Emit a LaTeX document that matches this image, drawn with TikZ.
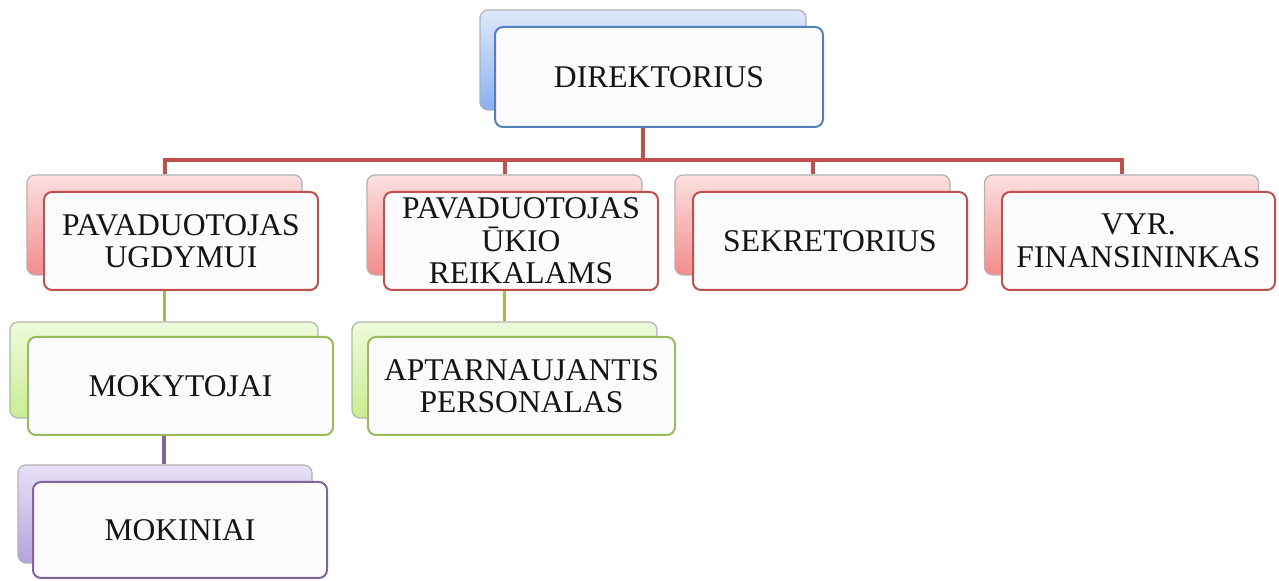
\documentclass[tikz,border=0pt]{standalone}
\usepackage{fontspec}
\setmainfont{Liberation Serif}
\usetikzlibrary{backgrounds}
\definecolor{redline}{RGB}{192,80,77}
\definecolor{greenline}{RGB}{155,187,89}
\definecolor{purpleline}{RGB}{128,100,162}
\definecolor{blueline}{RGB}{79,129,189}
\definecolor{redlight}{RGB}{251,224,224}
\definecolor{reddark}{RGB}{243,140,140}
\definecolor{bluelight}{RGB}{222,232,251}
\definecolor{bluedark}{RGB}{140,176,240}
\definecolor{greenlight}{RGB}{238,251,220}
\definecolor{greendark}{RGB}{202,236,145}
\definecolor{purplelight}{RGB}{232,225,246}
\definecolor{purpledark}{RGB}{182,162,222}
\definecolor{frontfill}{RGB}{252,252,254}
\definecolor{textcol}{RGB}{20,20,20}
\begin{document}
\begin{tikzpicture}[x=0.5pt,y=-0.5pt,
  backbox/.style={rectangle, rounded corners=4pt, draw=gray!60, line width=0.6pt, inner sep=0pt},
  frontbox/.style={rectangle, rounded corners=4pt, fill=frontfill, line width=1pt, inner sep=1pt,
    align=center, text=textcol, font=\fontsize{15.8}{16.3}\selectfont},
  redback/.style={backbox, top color=redlight, bottom color=reddark},
  blueback/.style={backbox, top color=bluelight, bottom color=bluedark},
  greenback/.style={backbox, top color=greenlight, bottom color=greendark},
  purpleback/.style={backbox, top color=purplelight, bottom color=purpledark},
  redfront/.style={frontbox, draw=redline},
  bluefront/.style={frontbox, draw=blueline},
  greenfront/.style={frontbox, draw=greenline},
  purplefront/.style={frontbox, draw=purpleline},
  redconn/.style={draw=redline, line width=2pt},
  greenconn/.style={draw=greenline, line width=1.6pt},
  purpleconn/.style={draw=purpleline, line width=1.6pt}]
\useasboundingbox (0,0) rectangle (1279,581);

% back boxes
\node[blueback, minimum width=163pt, minimum height=50pt] (dirB) at (643,60) {};
\node[redback, minimum width=137.5pt, minimum height=50pt] (puB) at (164.5,225) {};
\node[redback, minimum width=137.5pt, minimum height=50pt] (pkB) at (504.5,225) {};
\node[redback, minimum width=137.5pt, minimum height=50pt] (sekB) at (812.5,225) {};
\node[redback, minimum width=137pt, minimum height=50pt] (vyrB) at (1121.5,225) {};
\node[greenback, minimum width=154pt, minimum height=48pt] (mokB) at (164,370) {};
\node[greenback, minimum width=152.5pt, minimum height=48pt] (aptB) at (504.5,370) {};
\node[purpleback, minimum width=147pt, minimum height=49pt] (mkiB) at (165,514) {};

% front boxes
\node[bluefront, minimum width=164pt, minimum height=50pt] (dir) at (659,77) {DIREKTORIUS};
\node[redfront, minimum width=137pt, minimum height=49pt] (pu) at (181,241) {PAVADUOTOJAS\\UGDYMUI};
\node[redfront, minimum width=137pt, minimum height=49pt] (pk) at (521,241) {PAVADUOTOJAS\\ŪKIO\\REIKALAMS};
\node[redfront, minimum width=137pt, minimum height=49pt] (sek) at (830,241) {SEKRETORIUS};
\node[redfront, minimum width=136.5pt, minimum height=49pt] (vyr) at (1138.5,241) {VYR.\\FINANSININKAS};
\node[greenfront, minimum width=152.5pt, minimum height=49pt] (mok) at (180.5,386) {MOKYTOJAI};
\node[greenfront, minimum width=153.5pt, minimum height=49pt] (apt) at (521.5,386) {APTARNAUJANTIS\\PERSONALAS};
\node[purplefront, minimum width=147pt, minimum height=48pt] (mki) at (180,530) {MOKINIAI};

\coordinate (bus) at (0,160);

\begin{pgfonlayer}{background}
\draw[redconn] (dirB.south) -- (dirB.south |- bus);
\draw[redconn] (puB.north) -- (puB.north |- bus) -| (vyrB.north);
\draw[redconn] (pkB.north) -- (pkB.north |- bus);
\draw[redconn] (sekB.north) -- (sekB.north |- bus);
\draw[greenconn] (puB.south) -- (puB.south |- mokB.north);
\draw[greenconn] (pkB.south) -- (pkB.south |- aptB.north);
\draw[purpleconn] (mokB.south) -- (mokB.south |- mkiB.north);
\end{pgfonlayer}
\end{tikzpicture}
\end{document}
